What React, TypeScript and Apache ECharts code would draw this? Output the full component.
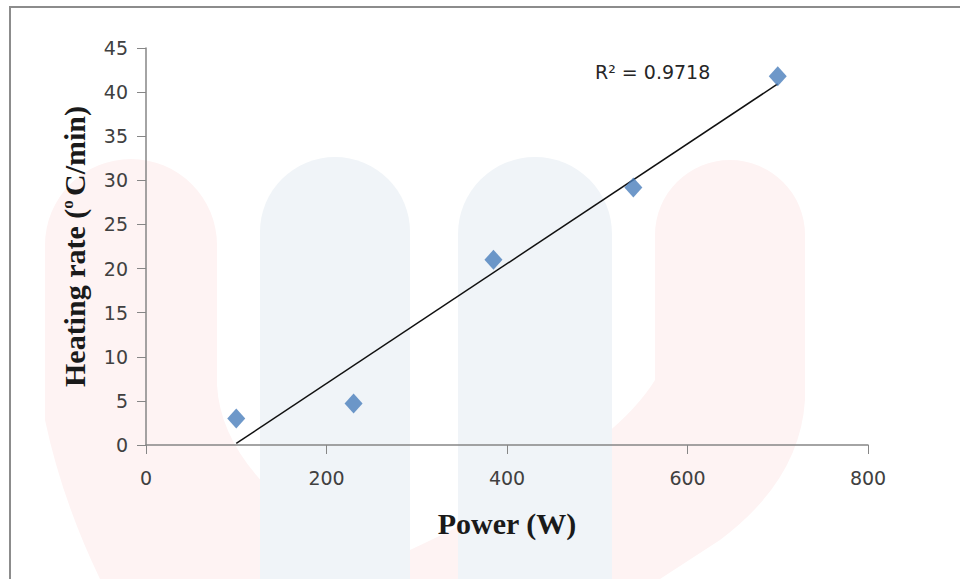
import React, { useEffect, useRef } from "react";
import * as echarts from "echarts";

const powerW = [100, 230, 385, 540, 700];
const heatingRate = [3.0, 4.7, 21.0, 29.2, 41.8];
const yTicks = { min: 0, max: 45, interval: 5 };
const xTicks = { min: 0, max: 800, interval: 200 };
const r2Label = "R² = 0.9718";

function regression(xs: number[], ys: number[]) {
  const n = xs.length;
  const mx = xs.reduce((a, b) => a + b, 0) / n;
  const my = ys.reduce((a, b) => a + b, 0) / n;
  let sxy = 0, sxx = 0;
  for (let i = 0; i < n; i++) {
    sxy += (xs[i] - mx) * (ys[i] - my);
    sxx += (xs[i] - mx) ** 2;
  }
  const slope = sxy / sxx;
  return { slope, intercept: my - slope * mx };
}

echarts.graphic.registerShape(
  "wmRedLeft",
  echarts.graphic.extendPath(
    "M45,245 A86,86 0 0 1 217,245 L217,385 Q220,440 270,490 L335,579 L100,579 Q62,500 45,420 Z",
    {}
  )
);
echarts.graphic.registerShape(
  "wmRedRight",
  echarts.graphic.extendPath(
    "M655,235 A75,75 0 0 1 805,235 L805,400 Q800,480 720,540 L660,579 L345,579 Q600,470 655,380 Z",
    {}
  )
);

export default function App() {
  const ref = useRef<HTMLDivElement>(null);
  useEffect(() => {
    if (!ref.current) return;
    const chart = echarts.init(ref.current, null, { renderer: "svg" });
    const { slope, intercept } = regression(powerW, heatingRate);
    const xMin = Math.min(...powerW);
    const xMax = Math.max(...powerW);
    const trend = [
      [xMin, slope * xMin + intercept],
      [xMax, slope * xMax + intercept],
    ];
    const axisColor = "#868686";
    const labelFont = { fontFamily: "DejaVu Sans", fontSize: 19, color: "#404040" };
    chart.setOption({
      animation: false,
      backgroundColor: "#ffffff",
      grid: { left: 146, right: 92, top: 48, bottom: 134 },
      graphic: [
        { type: "wmRedLeft", z: -10, style: { fill: "#fef3f3" } },
        { type: "wmRedRight", z: -10, style: { fill: "#fef3f3" } },
        { type: "rect", z: -9, shape: { x: 260, y: 157, width: 150, height: 500, r: [75, 75, 0, 0] }, style: { fill: "#f0f4f8" } },
        { type: "rect", z: -9, shape: { x: 458, y: 157, width: 154, height: 500, r: [77, 77, 0, 0] }, style: { fill: "#f0f4f8" } },
        { type: "rect", z: 10, shape: { x: 10, y: 7, width: 1200, height: 1200 }, style: { fill: "none", stroke: "#8c8c8c", lineWidth: 2 } },
        {
          type: "text",
          z: 10,
          x: 595,
          y: 62,
          style: { text: r2Label, fontFamily: "DejaVu Sans", fontSize: 19, fill: "#262626" },
        },
      ],
      xAxis: {
        type: "value",
        min: xTicks.min,
        max: xTicks.max,
        interval: xTicks.interval,
        splitLine: { show: false },
        axisLine: { show: true, onZero: false, lineStyle: { color: axisColor, width: 1.5 } },
        axisTick: { show: true, length: 9, lineStyle: { color: axisColor } },
        axisLabel: { ...labelFont, margin: 23 },
        name: "Power (W)",
        nameLocation: "middle",
        nameGap: 63,
        nameTextStyle: { fontFamily: "Liberation Serif", fontWeight: "bold", fontSize: 30, color: "#1a1a1a" },
      },
      yAxis: {
        type: "value",
        min: yTicks.min,
        max: yTicks.max,
        interval: yTicks.interval,
        splitLine: { show: false },
        axisLine: { show: true, onZero: false, lineStyle: { color: axisColor, width: 1.5 } },
        axisTick: { show: true, length: 9, lineStyle: { color: axisColor } },
        axisLabel: { ...labelFont, margin: 18 },
        name: "Heating rate ({s|o }C/min)",
        nameLocation: "middle",
        nameGap: 57,
        nameRotate: 90,
        nameTextStyle: {
          fontFamily: "Liberation Serif",
          fontWeight: "bold",
          fontSize: 30,
          color: "#1a1a1a",
          rich: {
            s: { fontFamily: "Liberation Serif", fontSize: 17, color: "#1a1a1a", verticalAlign: "top", padding: [0, 0, 12, 0] },
          },
        },
      },
      series: [
        {
          type: "line",
          data: trend,
          symbol: "none",
          lineStyle: { color: "#111111", width: 1.5 },
          z: 3,
        },
        {
          type: "scatter",
          data: powerW.map((x, i) => [x, heatingRate[i]]),
          symbol: "diamond",
          symbolSize: [18, 20],
          itemStyle: { color: "#4a7ebb" },
          z: 4,
        },
      ],
    });
    return () => chart.dispose();
  }, []);
  return (
    <div
      ref={ref}
      style={{ position: "absolute", left: 0, top: 0, width: 960, height: 579 }}
    />
  );
}
